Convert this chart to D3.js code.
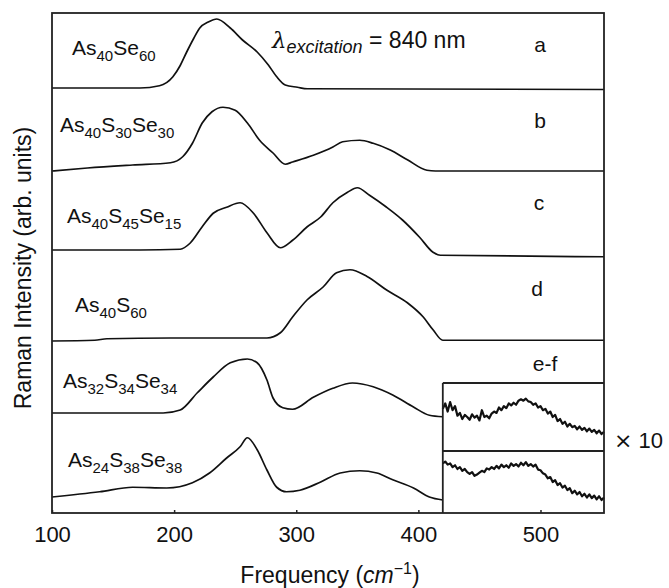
<!DOCTYPE html>
<html lang="en">
<head>
<meta charset="UTF-8">
<script src="https://d3js.org/d3.v7.min.js"></script>
<title>Raman spectra</title>
<style>
  body { margin: 0; background: #fff; }
  svg text { font-family: "Liberation Sans", Arial, sans-serif; fill: #111; }
  .frame { fill: none; stroke: #222; stroke-width: 1.8; }
  .spec { fill: none; stroke: #111; stroke-width: 1.7; stroke-linejoin: round; }
  .noisy { fill: none; stroke: #111; stroke-width: 2.2; stroke-linejoin: round; }
  .axis path { display: none; }
  .axis line { stroke: #222; stroke-width: 1.5; }
</style>
</head>
<body>
<script>
// spectra: [frequency, relative intensity]
var specA = [[100,0],[172,0],[188,0.03],[199,0.15],[205,0.3],[210,0.47],[216,0.66],[221,0.8],[228,0.88],[235,0.92],[246,0.8],[256,0.64],[268,0.48],[277,0.31],[284,0.15],[291,0.04],[301,0.01],[309,-0.01],[552,-0.02]];
var specB = [[100,0],[129,0.04],[166,0.08],[197,0.11],[207,0.19],[215,0.37],[223,0.64],[231,0.79],[240,0.85],[250,0.81],[260,0.64],[270,0.41],[281,0.24],[291,0.09],[297,0.12],[314,0.21],[330,0.32],[338,0.39],[352,0.41],[363,0.37],[377,0.28],[391,0.15],[407,0.01],[414,0],[552,0]];
var specC = [[100,0],[172,0],[205,0.01],[213,0.09],[223,0.31],[232,0.49],[243,0.57],[254,0.63],[265,0.49],[276,0.23],[287,0.03],[297,0.13],[309,0.31],[320,0.44],[330,0.63],[342,0.77],[350,0.83],[360,0.73],[374,0.57],[387,0.4],[401,0.17],[412,-0.03],[418,-0.07],[552,-0.09]];
var specD = [[100,0],[135,0.01],[145,0.03],[197,0.04],[276,0.04],[287,0.11],[297,0.32],[309,0.55],[322,0.72],[333,0.91],[344,0.95],[358,0.86],[374,0.68],[391,0.51],[404,0.32],[412,0.15],[420,0.01],[552,0.01]];
var specE = [[100,0],[191,0],[205,0.04],[219,0.27],[232,0.48],[246,0.67],[260,0.72],[268,0.67],[276,0.44],[281,0.2],[289,0.07],[297,0.05],[314,0.21],[330,0.33],[346,0.4],[363,0.35],[379,0.24],[396,0.08],[409,-0.03],[420,-0.05]];
var specF = [[100,0],[139,0.07],[166,0.13],[194,0.12],[215,0.19],[229,0.32],[243,0.52],[254,0.67],[260,0.79],[268,0.63],[276,0.36],[284,0.13],[292,0.07],[303,0.09],[320,0.2],[336,0.32],[352,0.35],[366,0.32],[379,0.23],[396,0.12],[409,0],[420,-0.04]];

// x10 insets (420-552 cm-1)
var insetE = [[420,0.62],[422,0.70],[424,0.58],[426,0.72],[428,0.60],[430,0.66],[432,0.52],[434,0.56],[436,0.47],[438,0.53],[440,0.50],[442,0.46],[444,0.54],[446,0.49],[448,0.52],[450,0.45],[452,0.60],[454,0.50],[456,0.52],[458,0.48],[460,0.55],[462,0.58],[464,0.56],[466,0.64],[468,0.60],[470,0.66],[472,0.63],[474,0.70],[476,0.67],[478,0.71],[480,0.68],[482,0.74],[484,0.76],[486,0.74],[488,0.77],[490,0.73],[492,0.72],[494,0.68],[496,0.70],[498,0.64],[500,0.66],[502,0.60],[504,0.62],[506,0.55],[508,0.58],[510,0.50],[512,0.53],[514,0.44],[516,0.47],[518,0.40],[520,0.43],[522,0.36],[524,0.40],[526,0.35],[528,0.37],[530,0.32],[532,0.36],[534,0.31],[536,0.34],[538,0.29],[540,0.33],[542,0.28],[544,0.31],[546,0.26],[548,0.30],[550,0.25],[552,0.28]];
var insetF = [[420,0.80],[422,0.83],[424,0.78],[426,0.80],[428,0.74],[430,0.77],[432,0.71],[434,0.74],[436,0.68],[438,0.71],[440,0.66],[442,0.63],[444,0.66],[446,0.60],[448,0.62],[450,0.65],[452,0.68],[454,0.66],[456,0.72],[458,0.70],[460,0.74],[462,0.71],[464,0.76],[466,0.72],[468,0.78],[470,0.74],[472,0.77],[474,0.73],[476,0.80],[478,0.76],[480,0.79],[482,0.75],[484,0.81],[486,0.77],[488,0.82],[490,0.76],[492,0.79],[494,0.75],[496,0.78],[498,0.70],[500,0.69],[502,0.64],[504,0.62],[506,0.56],[508,0.58],[510,0.50],[512,0.53],[514,0.45],[516,0.48],[518,0.41],[520,0.44],[522,0.37],[524,0.40],[526,0.32],[528,0.36],[530,0.30],[532,0.34],[534,0.27],[536,0.31],[538,0.25],[540,0.30],[542,0.24],[544,0.28],[546,0.22],[548,0.27],[550,0.21],[552,0.25]];

var xTicks = [100, 200, 300, 400, 500];
var panelLetters = ["a", "b", "c", "d", "e-f"];
// compositions as [element, subscript, ...]
var compositions = [
  ["As","40","Se","60"],
  ["As","40","S","30","Se","30"],
  ["As","40","S","45","Se","15"],
  ["As","40","S","60"],
  ["As","32","S","34","Se","34"],
  ["As","24","S","38","Se","38"]
];

var W = 669, H = 588;
var plotL = 52, plotR = 604, plotT = 13, plotB = 513;

var svg = d3.select("body").append("svg")
    .attr("width", W)
    .attr("height", H);

var x = d3.scaleLinear().domain([100, 552]).range([plotL, plotR]);

// one y scale per stacked trace (baseline pixel, 75px per unit)
var bases = [88, 171, 250, 341, 413, 497];
var spectra = [specA, specB, specC, specD, specE, specF];
var yScales = bases.map(function(b) { return d3.scaleLinear().domain([0, 1]).range([b, b - 75]); });

var line = function(ys) {
  return d3.line()
    .x(function(d) { return x(d[0]); })
    .y(function(d) { return ys(d[1]); })
    .curve(d3.curveMonotoneX);
};

spectra.forEach(function(s, i) {
  svg.append("path")
    .attr("class", "spec")
    .attr("d", line(yScales[i])(s));
});

// inset boxes
var xInset = x(420);
var yInE = d3.scaleLinear().domain([0, 1]).range([451, 383]);
var yInF = d3.scaleLinear().domain([0, 1]).range([513, 451]);

svg.append("path")
    .attr("class", "noisy")
    .attr("d", d3.line().x(function(d) { return x(d[0]); }).y(function(d) { return yInE(d[1]); })(insetE));
svg.append("path")
    .attr("class", "noisy")
    .attr("d", d3.line().x(function(d) { return x(d[0]); }).y(function(d) { return yInF(d[1]); })(insetF));

svg.append("line").attr("class", "frame")
    .attr("x1", xInset).attr("x2", plotR).attr("y1", 383).attr("y2", 383);
svg.append("line").attr("class", "frame")
    .attr("x1", xInset).attr("x2", plotR).attr("y1", 451).attr("y2", 451);
svg.append("line").attr("class", "frame")
    .attr("x1", xInset).attr("x2", xInset).attr("y1", 383).attr("y2", plotB);

// frame
svg.append("rect").attr("class", "frame")
    .attr("x", plotL).attr("y", plotT)
    .attr("width", plotR - plotL).attr("height", plotB - plotT);

// x axis
var xAxis = d3.axisBottom(x).tickValues(xTicks).tickSizeInner(-3).tickSizeOuter(0).tickPadding(13);
svg.append("g")
    .attr("class", "axis")
    .attr("transform", "translate(0," + plotB + ")")
    .call(xAxis)
    .selectAll("text")
    .style("font-size", "22px")
    .style("font-family", "'Liberation Sans', Arial, sans-serif")
    .attr("fill", "#111");

// composition labels
var labelPos = [[72, 55], [60, 132], [67, 223], [75, 312], [63, 388], [68, 467]];
compositions.forEach(function(parts, i) {
  var t = svg.append("text")
    .attr("x", labelPos[i][0])
    .attr("y", labelPos[i][1])
    .style("font-size", "21px");
  parts.forEach(function(p, j) {
    var sub = j % 2 === 1;
    t.append("tspan")
      .style("font-size", sub ? "15px" : "21px")
      .attr("dy", j === 0 ? 0 : (sub ? 6 : -6))
      .text(p);
  });
});

// panel letters
var letterPos = [[540, 52], [540, 128], [539, 210], [537, 296], [545, 371]];
panelLetters.forEach(function(l, i) {
  svg.append("text")
    .attr("x", letterPos[i][0])
    .attr("y", letterPos[i][1])
    .attr("text-anchor", "middle")
    .style("font-size", "21px")
    .text(l);
});

// excitation wavelength
var ex = svg.append("text").attr("x", 272).attr("y", 48).style("font-size", "23px");
ex.append("tspan").style("font-family", "'DejaVu Serif', serif").style("font-style", "italic").text("λ");
ex.append("tspan").style("font-style", "italic").style("font-size", "18px").attr("dy", 5).text("excitation");
ex.append("tspan").attr("dy", -5).text(" = 840 nm");

// x10 marker
var mark = svg.append("text")
    .attr("x", 614).attr("y", 448)
    .style("font-size", "22px");
mark.append("tspan").style("font-family", "'DejaVu Sans', sans-serif").text("×");
mark.append("tspan").text(" 10");

// axis titles
var xt = svg.append("text")
    .attr("x", 330).attr("y", 583)
    .attr("text-anchor", "middle")
    .style("font-size", "23px");
xt.append("tspan").text("Frequency (");
xt.append("tspan").style("font-style", "italic").text("cm");
xt.append("tspan").style("font-size", "16px").attr("dy", -9).text("−1");
xt.append("tspan").attr("dy", 9).text(")");

svg.append("text")
    .attr("transform", "translate(31,268) rotate(-90)")
    .attr("text-anchor", "middle")
    .style("font-size", "23px")
    .text("Raman Intensity (arb. units)");
</script>
</body>
</html>
